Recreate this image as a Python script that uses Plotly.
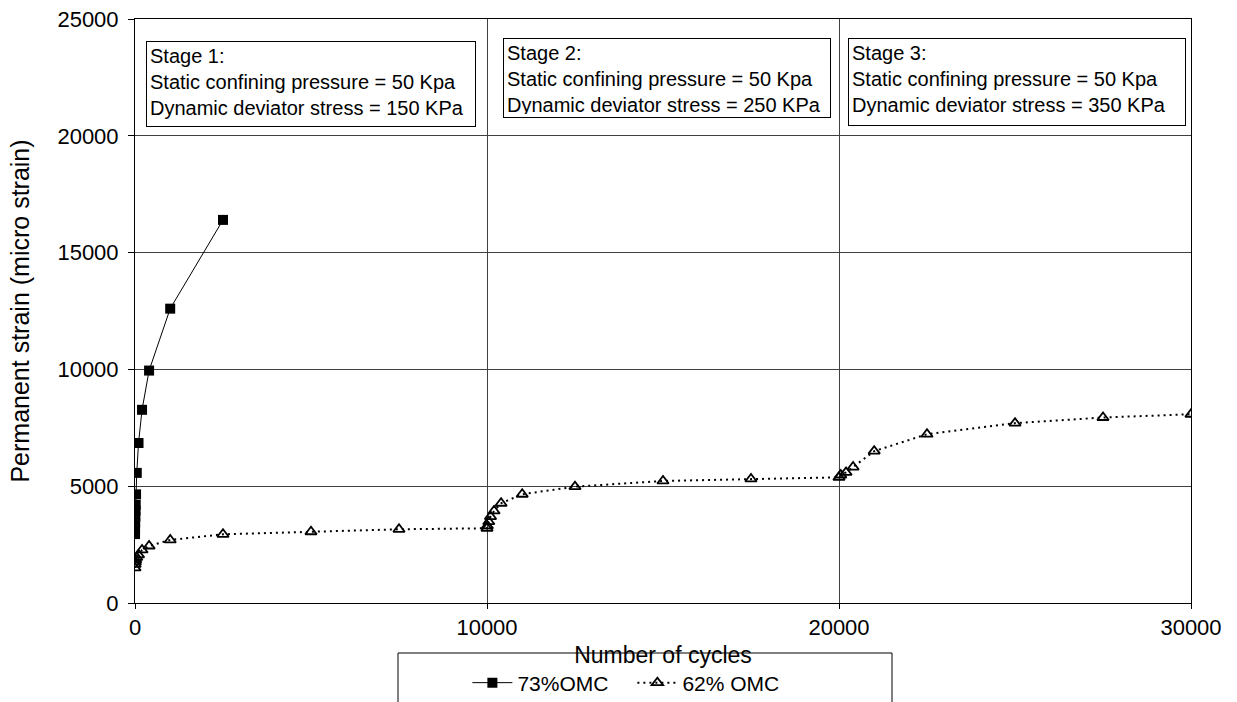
import plotly.graph_objects as go

# ---- data ----
cycles_73 = [1, 2, 5, 10, 15, 20, 30, 50, 100, 200, 400, 1000, 2500]
strain_73 = [2950, 3150, 3450, 3700, 3950, 4200, 4650, 5570, 6850, 8270, 9950, 12600, 16400]

cycles_62 = [1, 5, 10, 20, 50, 100, 200, 400, 1000, 2500, 5000, 7500, 10000,
             10010, 10050, 10100, 10200, 10400, 11000, 12500, 15000, 17500, 20000,
             20050, 20200, 20400, 21000, 22500, 25000, 27500, 30000]
strain_62 = [1500, 1650, 1750, 1850, 1950, 2060, 2270, 2440, 2700, 2940, 3050, 3155, 3200,
             3300, 3480, 3700, 3940, 4270, 4655, 4980, 5225, 5310, 5380,
             5480, 5590, 5820, 6500, 7225, 7700, 7940, 8080]

x_ticks = [0, 10000, 20000, 30000]
y_ticks = [0, 5000, 10000, 15000, 20000, 25000]

stage_texts = [
    "Stage 1:<br>Static confining pressure = 50 Kpa<br>Dynamic deviator stress = 150 KPa",
    "Stage 2:<br>Static confining pressure = 50 Kpa<br>Dynamic deviator stress = 250 KPa",
    "Stage 3:<br>Static confining pressure = 50 Kpa<br>Dynamic deviator stress = 350 KPa",
]
stage_x = [310, 10455, 20255]
stage_y = [24050, 24200, 24200]

FONT = "Liberation Sans, Arial, sans-serif"

fig = go.Figure()
fig.add_trace(go.Scatter(
    x=cycles_73, y=strain_73, name="73%OMC", mode="lines+markers",
    line=dict(color="black", width=1),
    marker=dict(symbol="square", size=10, color="black"),
))
fig.add_trace(go.Scatter(
    x=cycles_62, y=strain_62, name="62% OMC", mode="lines+markers",
    line=dict(color="black", width=2, dash="2px,4px"),
    marker=dict(symbol="triangle-up-open", size=10, color="black",
                line=dict(color="black", width=1.8)),
))

widths = [322, 320, 330]
heights = [78, 72, 80]
for t, sx, sy, w, h in zip(stage_texts, stage_x, stage_y, widths, heights):
    fig.add_annotation(
        x=sx, y=sy, xref="x", yref="y", text=t, showarrow=False,
        xanchor="left", yanchor="top", align="left", valign="top",
        width=w, height=h,
        font=dict(family=FONT, size=20, color="black"),
        bordercolor="black", borderwidth=1, borderpad=3, bgcolor="white",
    )

# legend frame (extends past the bottom edge, as in the reference)
fig.add_shape(type="rect", xref="paper", yref="paper",
              x0=(398 - 135) / 1056, x1=(892 - 135) / 1056,
              y0=-0.2, y1=-(653 - 603) / 584,
              line=dict(color="black", width=1), fillcolor="rgba(0,0,0,0)")

fig.update_layout(
    width=1237, height=702,
    margin=dict(l=135, r=46, t=19, b=99, autoexpand=False),
    paper_bgcolor="white", plot_bgcolor="white",
    font=dict(family=FONT, size=20, color="black"),
    showlegend=True,
    legend=dict(orientation="h", x=0.471, xanchor="center",
                y=-(683 - 603) / 584, yanchor="middle",
                font=dict(family=FONT, size=21, color="black"),
                bgcolor="rgba(0,0,0,0)", borderwidth=0,
                entrywidth=110, entrywidthmode="pixels", itemwidth=40),
)
fig.update_xaxes(
    range=[0, 30000], tickvals=x_ticks, ticktext=[str(v) for v in x_ticks],
    showgrid=True, gridcolor="#404040", gridwidth=1,
    showline=True, linecolor="black", linewidth=1, mirror=True,
    ticks="outside", ticklen=5, tickcolor="black",
    zeroline=False,
    title=dict(text="Number of cycles", standoff=7, font=dict(size=23)),
    tickfont=dict(size=22),
)
fig.update_yaxes(
    range=[0, 25000], tickvals=y_ticks, ticktext=[str(v) for v in y_ticks],
    showgrid=True, gridcolor="#404040", gridwidth=1,
    showline=True, linecolor="black", linewidth=1, mirror=True,
    ticks="outside", ticklen=6, tickcolor="black",
    zeroline=False, ticklabelstandoff=5,
    title=dict(text="Permanent strain (micro strain)", standoff=20, font=dict(size=25)),
    tickfont=dict(size=22),
)

fig.write_html("out.html", config={"displayModeBar": False},
               post_script="document.body.style.margin='0px';")
